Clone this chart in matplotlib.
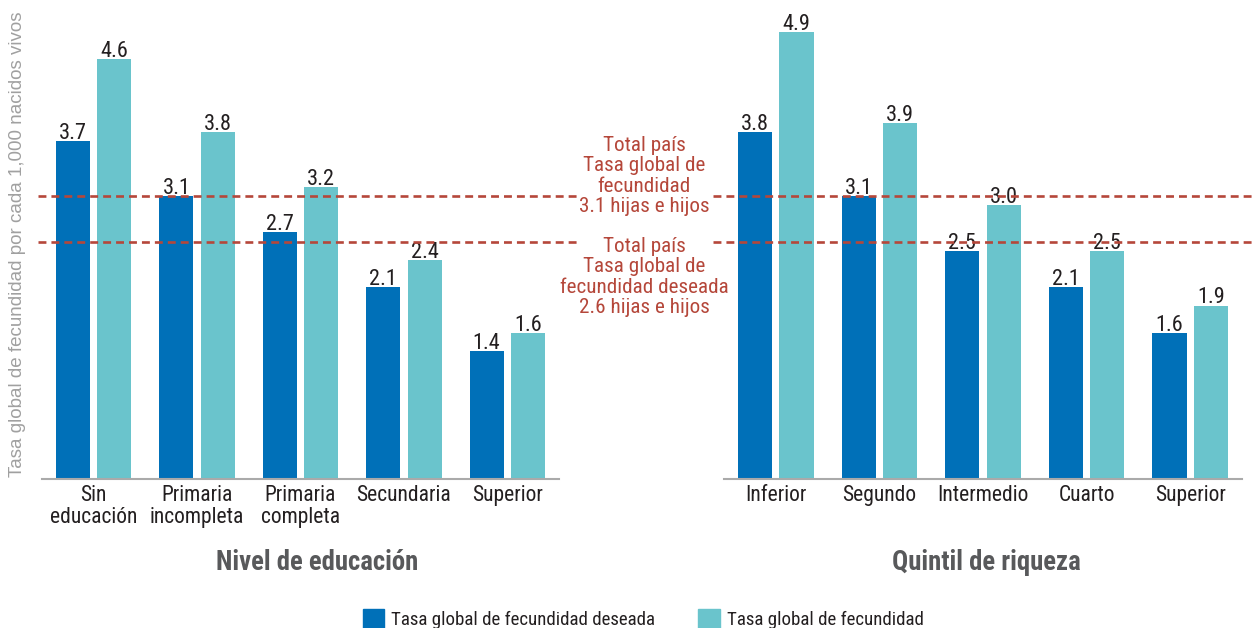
import matplotlib
matplotlib.use("Agg")
import matplotlib.pyplot as plt
import matplotlib.transforms as mtransforms
from matplotlib.patches import Patch
from matplotlib import font_manager as fm

names = {f.name for f in fm.fontManager.ttflist}
narrow = 'DejaVu Sans'
for cand in ['Roboto Condensed', 'Archivo Narrow', 'PT Sans Narrow', 'IBM Plex Sans Condensed',
             'Liberation Sans Narrow', 'Open Sans Condensed']:
    if cand in names:
        narrow = cand
        break
plt.rcParams['font.family'] = [narrow, 'DejaVu Sans']

# ---- data ----
edu_labels = ["Sin\neducación", "Primaria\nincompleta", "Primaria\ncompleta", "Secundaria", "Superior"]
edu_deseada = [3.7, 3.1, 2.7, 2.1, 1.4]
edu_tgf = [4.6, 3.8, 3.2, 2.4, 1.6]

quint_labels = ["Inferior", "Segundo", "Intermedio", "Cuarto", "Superior"]
quint_deseada = [3.8, 3.1, 2.5, 2.1, 1.6]
quint_tgf = [4.9, 3.9, 3.0, 2.5, 1.9]

national_tgf = 3.1
national_deseada = 2.6

series_names = ["Tasa global de fecundidad deseada", "Tasa global de fecundidad"]
panel_titles = ["Nivel de educación", "Quintil de riqueza"]
ylabel = "Tasa global de fecundidad por cada 1,000 nacidos vivos"
note_tgf = "Total país\nTasa global de\nfecundidad\n3.1 hijas e hijos"
note_des = "Total país\nTasa global de\nfecundidad deseada\n2.6 hijas e hijos"

BLUE = "#0070B8"
TEAL = "#6AC4CC"
RED = "#B5473A"
DARK = "#231F20"
GRAY = "#58595B"

W, H = 1254, 628
fig = plt.figure(figsize=(W / 100, H / 100), dpi=100)

axL = fig.add_axes([42 / W, (H - 479) / H, 517 / W, 456.5 / H])
axR = fig.add_axes([724 / W, (H - 479) / H, 518 / W, 456.5 / H])

bw = 0.33
off = 0.2
for ax, labels, d1, d2, title, tx in [
    (axL, edu_labels, edu_deseada, edu_tgf, panel_titles[0], 317),
    (axR, quint_labels, quint_deseada, quint_tgf, panel_titles[1], 986),
]:
    x = list(range(len(labels)))
    b1 = ax.bar([i - off for i in x], d1, width=bw, color=BLUE)
    b2 = ax.bar([i + off for i in x], d2, width=bw, color=TEAL)
    for bars, vals in [(b1, d1), (b2, d2)]:
        for rect, v in zip(bars, vals):
            ax.annotate(f"{v:.1f}", (rect.get_x() + rect.get_width() / 2, v),
                        xytext=(0, 1.5), textcoords="offset points",
                        ha="center", va="baseline", fontsize=16, color=DARK)
    ax.set_xlim(-0.5, 4.5)
    ax.set_ylim(0, 5.0)
    ax.set_xticks(x)
    ax.set_xticklabels(labels, fontsize=15.5, color=DARK, linespacing=1.1)
    ax.tick_params(axis="x", length=0, pad=4)
    ax.set_yticks([])
    for s in ["top", "right", "left"]:
        ax.spines[s].set_visible(False)
    ax.spines["bottom"].set_color("#AAAAAA")
    ax.spines["bottom"].set_linewidth(1.5)
    fig.text(tx / W, 1 - 563 / H, title, ha="center", va="center",
             fontsize=19.3, fontweight="bold", color=GRAY)

# national reference lines
for yv in [national_tgf, national_deseada]:
    tr = mtransforms.blended_transform_factory(fig.transFigure, axL.transData)
    for x0, x1 in [(38 / W, 577 / W), (713 / W, 1.0)]:
        ln = plt.Line2D([x0, x1], [yv, yv], transform=tr, color=RED, lw=1.9,
                        dashes=(3.0, 1.9), clip_on=False)
        fig.add_artist(ln)

fig.text(644 / W, 1 - 176 / H, note_tgf, ha="center", va="center",
         fontsize=15.2, color=RED, linespacing=1.07)
fig.text(644 / W, 1 - 277 / H, note_des, ha="center", va="center",
         fontsize=15.2, color=RED, linespacing=1.07)

fig.text(18 / W, 1 - 244 / H, ylabel, rotation=90, ha="center", va="center",
         fontsize=13.5, color="#A0A0A0", family=["Liberation Sans", "DejaVu Sans"])

handles = [Patch(color=BLUE, label=series_names[0]), Patch(color=TEAL, label=series_names[1])]
fig.legend(handles=handles, loc="center", bbox_to_anchor=(643 / W, 1 - 619 / H),
           ncol=2, frameon=False, fontsize=13.6, handlelength=1.15, handleheight=1.2,
           handletextpad=0.35, columnspacing=2.3, labelcolor=DARK, borderpad=0.2)

fig.savefig("out.png", dpi=100)
